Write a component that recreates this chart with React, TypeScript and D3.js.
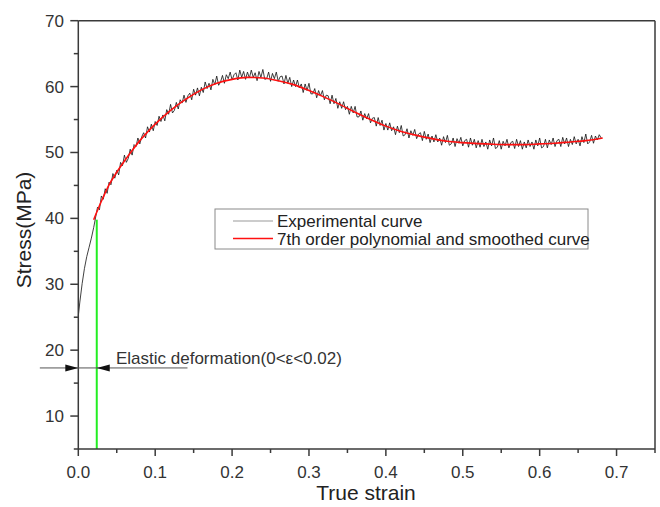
import React from "react";
import * as d3 from "d3";

// ---- data ----
const expStrainStart = [0.0, 0.002, 0.005, 0.008, 0.011, 0.014, 0.017, 0.02];
const expStressStart = [25.2, 27.3, 30.1, 32.4, 34.2, 35.6, 37.0, 38.6];
const expStrainFirst = 0.025; // first strain of the dense recorded part
const expStrainStep = 0.0025; // sampling step of the recorded curve
const expStress = [
  41.7, 41.3, 43.4, 42.9, 44.5, 43.8, 45.5, 45.1,
  46.8, 46.1, 47.3, 46.6, 48.5, 48.0, 49.6, 48.5,
  49.1, 50.5, 49.6, 51.2, 50.9, 52.2, 51.3, 52.4,
  53.0, 52.2, 53.9, 53.1, 54.3, 53.3, 54.7, 54.1,
  55.5, 54.7, 55.7, 54.8, 56.5, 55.8, 57.3, 56.0,
  56.4, 57.6, 56.6, 58.0, 57.5, 58.7, 57.6, 58.6,
  59.0, 58.0, 59.6, 58.7, 59.8, 58.6, 59.9, 59.1,
  60.7, 59.7, 60.5, 59.5, 61.1, 60.3, 61.6, 60.2,
  60.7, 61.7, 60.5, 61.8, 61.2, 62.2, 61.0, 61.8,
  62.1, 61.0, 62.5, 61.4, 62.3, 61.1, 62.2, 61.3,
  62.5, 61.4, 62.1, 60.9, 62.3, 61.4, 62.6, 61.1,
  61.2, 62.2, 60.8, 62.0, 61.2, 62.2, 60.8, 61.5,
  61.6, 60.4, 61.7, 60.5, 61.4, 60.0, 61.0, 60.0,
  61.0, 59.8, 60.4, 59.1, 60.4, 59.4, 60.5, 58.9,
  58.9, 59.7, 58.3, 59.4, 58.6, 59.4, 58.0, 58.7,
  58.6, 57.4, 58.7, 57.4, 58.2, 56.7, 57.7, 56.7,
  57.7, 56.5, 57.0, 55.8, 57.0, 56.0, 57.0, 55.4,
  55.4, 56.3, 54.9, 55.9, 55.1, 55.9, 54.5, 55.2,
  55.3, 54.0, 55.3, 54.1, 54.9, 53.4, 54.4, 53.4,
  54.5, 53.3, 53.9, 52.7, 54.0, 53.0, 54.1, 52.5,
  52.7, 53.6, 52.2, 53.3, 52.6, 53.5, 52.1, 52.8,
  53.0, 51.8, 53.2, 52.0, 52.8, 51.5, 52.5, 51.6,
  52.7, 51.6, 52.2, 51.1, 52.4, 51.5, 52.6, 51.1,
  51.3, 52.2, 50.9, 52.1, 51.4, 52.3, 51.0, 51.8,
  52.0, 50.8, 52.2, 51.1, 52.0, 50.7, 51.8, 50.8,
  52.0, 50.9, 51.6, 50.5, 51.9, 51.0, 52.2, 50.6,
  50.8, 51.8, 50.5, 51.7, 51.0, 52.0, 50.7, 51.5,
  51.7, 50.6, 52.0, 50.9, 51.8, 50.5, 51.6, 50.7,
  51.9, 50.9, 51.6, 50.5, 51.9, 51.0, 52.2, 50.7,
  50.9, 52.0, 50.7, 51.9, 51.2, 52.2, 50.9, 51.8,
  52.0, 50.9, 52.3, 51.3, 52.2, 50.9, 52.0, 51.2,
  52.4, 51.3, 52.0, 51.0, 52.4, 51.5, 52.8, 51.3,
  51.6, 52.6, 51.4, 52.5, 51.9, 52.7, 52.2,
];
const fitStrain = [
  0.02, 0.03, 0.04, 0.05, 0.06, 0.07, 0.08, 0.09, 0.1, 0.12, 0.14, 0.16, 0.18,
  0.2, 0.22, 0.24, 0.26, 0.28, 0.3, 0.32, 0.34, 0.36, 0.38, 0.4, 0.42, 0.44,
  0.46, 0.48, 0.5, 0.52, 0.54, 0.56, 0.58, 0.6, 0.62, 0.64, 0.66, 0.682,
];
const fitStress = [
  39.8, 42.6, 45.1, 47.0, 48.7, 50.3, 51.8, 53.1, 54.3, 56.4, 58.1, 59.5, 60.5,
  61.1, 61.4, 61.3, 60.9, 60.3, 59.4, 58.4, 57.3, 56.1, 55.0, 54.0, 53.2, 52.6,
  52.1, 51.7, 51.5, 51.35, 51.25, 51.2, 51.2, 51.3, 51.4, 51.6, 51.8, 52.2,
];
const xTickValues = [0, 0.1, 0.2, 0.3, 0.4, 0.5, 0.6, 0.7];
const yTickValues = [10, 20, 30, 40, 50, 60, 70];
const elasticLimitStrain = 0.024;
const elasticLimitStress = 39.8;
const annotationStress = 17.3;
const annotationLineStart = -0.05;
const annotationLineEnd = 0.142;
const annotationTextStrain = 0.049;
const annotationText = "Elastic deformation(0<\u03b5<0.02)";
const legendLabels = ["Experimental curve", "7th order polynomial and smoothed curve"];
const xLabel = "True strain";
const yLabel = "Stress(MPa)";

export default function App() {
  const W = 660;
  const H = 507;
  const x = d3.scaleLinear().domain([0, 0.75]).range([78.3, 655]);
  const y = d3.scaleLinear().domain([5, 70]).range([449, 20.7]);

  const expPts: [number, number][] = [
    ...expStrainStart.map((s, i) => [s, expStressStart[i]] as [number, number]),
    ...expStress.map((v, i) => [expStrainFirst + i * expStrainStep, v] as [number, number]),
  ];
  const fitPts: [number, number][] = fitStrain.map((s, i) => [s, fitStress[i]]);

  const expLine = d3
    .line<[number, number]>()
    .x((d) => x(d[0]))
    .y((d) => y(d[1]));
  const fitLine = d3
    .line<[number, number]>()
    .x((d) => x(d[0]))
    .y((d) => y(d[1]))
    .curve(d3.curveMonotoneX);

  const xAll = d3.range(0, 0.7501, 0.05);
  const yAll = d3.range(5, 70.01, 5);
  const axisColor = "#3a3a3a";
  const font = "Liberation Sans, Arial, sans-serif";
  const ay = y(annotationStress);
  const x0 = x(0);
  const xg = x(elasticLimitStrain);

  return (
    <svg
      width={W}
      height={H}
      style={{ position: "absolute", left: 0, top: 0, background: "#fff" }}
      fontFamily={font}
    >
      <rect x={0} y={0} width={W} height={H} fill="#fff" />
      {/* green elastic-limit line */}
      <line
        x1={xg}
        x2={xg}
        y1={y(5)}
        y2={y(elasticLimitStress)}
        stroke="#22ee22"
        strokeWidth={2}
      />
      {/* experimental curve */}
      <path d={expLine(expPts) || ""} fill="none" stroke="#111" strokeWidth={1} strokeOpacity={0.8} />
      {/* fitted curve */}
      <path d={fitLine(fitPts) || ""} fill="none" stroke="#ff1010" strokeWidth={1.6} />

      {/* frame */}
      <line x1={x(0)} x2={x(0.75)} y1={y(70)} y2={y(70)} stroke={axisColor} strokeWidth={1.5} />
      <line x1={x(0.75)} x2={x(0.75)} y1={y(70)} y2={y(5)} stroke={axisColor} strokeWidth={1.5} />
      <line x1={x(0)} x2={x(0.75)} y1={y(5)} y2={y(5)} stroke={axisColor} strokeWidth={1.5} />
      <line x1={x(0)} x2={x(0)} y1={y(70)} y2={y(5)} stroke={axisColor} strokeWidth={1.5} />

      {/* x ticks */}
      {xAll.map((v, i) => {
        const major = Math.abs(v * 10 - Math.round(v * 10)) < 1e-6;
        return (
          <line
            key={"xt" + i}
            x1={x(v)}
            x2={x(v)}
            y1={y(5)}
            y2={y(5) + (major ? 7 : 4)}
            stroke={axisColor}
            strokeWidth={1.5}
          />
        );
      })}
      {xTickValues.map((v) => (
        <text
          key={"xl" + v}
          x={x(v)}
          y={478}
          textAnchor="middle"
          fontSize={17}
          fill="#333"
        >
          {d3.format(".1f")(v)}
        </text>
      ))}
      {/* y ticks */}
      {yAll.map((v, i) => {
        const major = Math.round(v) % 10 === 0;
        return (
          <line
            key={"yt" + i}
            x1={x(0) - (major ? 8 : 4.5)}
            x2={x(0)}
            y1={y(v)}
            y2={y(v)}
            stroke={axisColor}
            strokeWidth={1.5}
          />
        );
      })}
      {yTickValues.map((v) => (
        <text
          key={"yl" + v}
          x={64}
          y={y(v) + 6}
          textAnchor="end"
          fontSize={17}
          fill="#333"
        >
          {v}
        </text>
      ))}

      {/* axis titles */}
      <text x={366} y={500} textAnchor="middle" fontSize={21} fill="#222">
        {xLabel}
      </text>
      <text
        transform={`translate(31,230) rotate(-90)`}
        textAnchor="middle"
        fontSize={21}
        fill="#222"
      >
        {yLabel}
      </text>

      {/* annotation */}
      <line
        x1={x(annotationLineStart)}
        x2={x(annotationLineEnd)}
        y1={ay}
        y2={ay}
        stroke="#555"
        strokeWidth={1}
      />
      <path d={`M${x0},${ay} L${x0 - 13},${ay - 3.5} L${x0 - 13},${ay + 3.5} Z`} fill="#111" />
      <path d={`M${xg},${ay} L${xg + 13},${ay - 3.5} L${xg + 13},${ay + 3.5} Z`} fill="#111" />
      <text x={x(annotationTextStrain)} y={ay - 4} fontSize={17} fill="#333">
        {annotationText}
      </text>

      {/* legend */}
      <rect x={215} y={209} width={373} height={40} fill="#fff" stroke="#8a8a8a" strokeWidth={1} />
      <line x1={233} x2={273} y1={221} y2={221} stroke="#9a9a9a" strokeWidth={1.2} />
      <line x1={233} x2={273} y1={238.5} y2={238.5} stroke="#ff1010" strokeWidth={1.6} />
      <text x={277} y={227} fontSize={17} fill="#222">
        {legendLabels[0]}
      </text>
      <text x={277} y={244.5} fontSize={17} fill="#222">
        {legendLabels[1]}
      </text>
    </svg>
  );
}
